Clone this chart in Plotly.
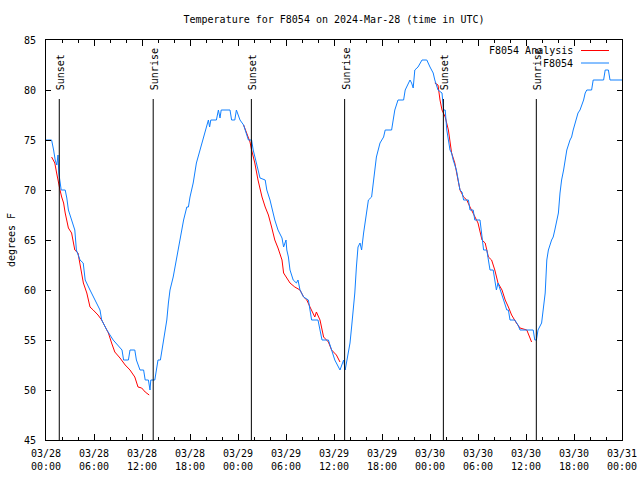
import pandas as pd
import plotly.graph_objects as go

BASE = pd.Timestamp("2024-03-28 00:00")

# Observed F8054 temperatures (hours since 03/28 00:00 UTC, degrees F)
obs_hours = [0.0, 0.7, 0.95, 1.15, 1.35, 1.5, 1.6, 1.75, 1.9, 2.4, 2.6, 2.8, 3.2, 3.6, 3.8, 4.25, 4.65, 4.9,
             5.5, 6.1, 6.75, 6.96, 7.6, 8.4, 9.5, 9.7, 10.3, 10.5, 11.1, 11.3, 11.75, 12.2, 12.4, 12.8, 13.0,
             13.1, 13.6, 13.8, 14.0, 14.3, 14.5, 14.7, 14.9, 15.1, 15.3, 15.5, 15.9, 16.3, 16.75, 17.2, 17.6,
             17.8, 18.0, 18.4, 18.8, 19.25, 19.7, 20.1, 20.3, 20.45, 20.6, 21.3, 21.55, 21.75, 21.9, 23.0,
             23.2, 23.6, 23.8, 24.25, 24.7, 24.9, 25.3, 25.7, 25.9, 26.3, 26.75, 27.4, 27.6, 28.0, 28.2, 28.6,
             29.0, 29.5, 29.7, 30.0, 30.1, 30.3, 30.5, 30.9, 31.3, 31.5, 31.75, 32.2, 32.8, 33.2, 34.0, 34.25,
             34.5, 35.3, 35.7, 36.1, 36.75, 37.2, 37.4, 37.8, 38.0, 38.2, 38.4, 38.6, 38.8, 39.0, 39.25, 39.45,
             39.7, 39.9, 40.1, 40.3, 40.7, 40.9, 41.1, 41.3, 41.75, 42.2, 42.4, 43.2, 43.4, 43.6, 44.0, 44.7,
             44.9, 45.3, 45.5, 45.7, 45.9, 46.1, 46.5, 47.0, 47.6, 48.0, 48.2, 48.4, 48.6, 49.0, 49.5, 49.7,
             49.9, 50.1, 50.3, 50.5, 50.7, 50.9, 51.3, 51.5, 51.75, 52.0, 52.2, 52.8, 53.0, 53.4, 53.6, 54.25,
             54.5, 54.7, 55.1, 55.3, 55.5, 55.9, 56.1, 56.3, 56.5, 56.75, 57.2, 57.6, 57.8, 58.0, 58.6, 59.0,
             59.25, 60.9, 61.1, 61.3, 61.5, 61.95, 62.2, 62.4, 62.6, 62.8, 63.2, 63.4, 63.6, 63.8, 64.05, 64.25,
             64.45, 64.7, 64.9, 65.1, 65.5, 65.7, 65.9, 66.3, 66.5, 66.75, 67.2, 67.4, 67.6, 68.2, 68.4, 69.7,
             69.9, 70.3, 70.5, 72.0]
obs_temps = [75, 75, 74, 73, 72.5, 73.5, 71.7, 70.7, 70, 70, 69.2, 68, 67, 66, 64, 63, 62.7, 61,
             60, 59, 58, 57, 56, 55, 54, 53, 53, 54, 54, 53, 52, 52, 51, 51, 50,
             51, 51, 52, 53, 53, 54, 54.7, 55.7, 57, 58.7, 60, 61.3, 63, 65.3, 67, 68.3,
             68.3, 69.3, 70.7, 72.7, 74, 75.2, 76.3, 77, 76.3, 77, 77, 78, 77.2, 78, 78,
             77, 77, 78, 77, 76.5, 76, 75, 75, 74, 72.7, 71.2, 71, 70, 69, 68.3, 67,
             66, 65.2, 64.3, 65, 64, 63.3, 62, 61, 60.7, 61, 60, 59.3, 59, 57, 57, 56,
             55, 55, 54, 53, 52, 53, 52, 53.7, 54.7, 56.3, 58, 59.7, 62.3, 64.3, 64.7, 64,
             65.7, 66.7, 68, 69, 69.3, 70.7, 72.3, 73.3, 74.7, 75.3, 76, 76, 77, 78, 79, 79,
             80, 80.7, 81, 80.7, 80.2, 82, 82.3, 83, 83, 82.3, 82, 81.7, 81, 80, 79.7, 78,
             78, 76, 75, 74, 73.7, 73, 72, 71, 70, 69.8, 69, 69, 68, 68, 67, 67,
             65.3, 64, 64, 63, 62, 62, 61, 60, 60.7, 60, 59, 58, 58, 57, 57, 56.5,
             56, 56, 55, 55, 56, 56.7, 58.3, 59.7, 63, 64, 65, 65.3, 66, 66.7, 67.7, 69.7,
             71, 72, 73.3, 74, 75, 75.3, 76, 77, 77.7, 78, 79, 79.7, 80, 80, 81, 81,
             82, 82, 81, 81]

# Overnight analysis segments (None separates the three nights)
ana_hours = [0.7, 1.1, 1.33, 1.54, 1.75, 1.96, 2.2, 2.4, 2.58, 2.8, 3.2, 3.4, 3.6, 4.0, 4.25, 4.46, 4.67,
             5.1, 5.5, 5.9, 6.5, 6.96, 7.4, 7.8, 8.2, 8.6, 9.25, 9.9, 10.5, 11.1, 11.5, 11.96, 12.4, 12.9,
             None,
             24.7, 25.1, 25.5, 25.7, 26.1, 26.5, 27.0, 27.4, 27.8, 28.2, 28.6, 29.0, 29.5, 29.7, 30.1, 30.5,
             31.1, 31.75, 32.2, 32.6, 33.0, 33.4, 33.6, 33.8, 34.25, 34.7, 35.3, 35.7, 36.3, 36.75,
             None,
             48.6, 49.0, 49.25, 49.5, 49.9, 50.3, 50.7, 51.1, 51.5, 51.75, 52.2, 52.6, 53.0, 53.6, 54.0,
             54.5, 54.9, 55.3, 55.7, 56.1, 56.5, 57.0, 57.4, 57.8, 58.2, 58.8, 59.25, 60.1, 60.5, 60.7]
ana_temps = [73.3, 72.7, 71.7, 70.7, 70, 69.3, 68.7, 67.7, 67, 66.2, 65.7, 64.7, 64, 63.7, 62.7, 61.7, 60.7,
             59.7, 58.3, 58, 57.5, 57, 56.3, 55.7, 54.7, 53.8, 53.2, 52.5, 52, 51.3, 50.3, 50.2, 49.8, 49.5,
             None,
             76.5, 75.7, 74.8, 74, 72.7, 71, 69.3, 68.3, 67.5, 66.3, 65, 64.2, 63, 61.7, 61.2, 60.7,
             60.3, 60, 59.3, 59, 58.3, 57.7, 57.3, 57.8, 57, 55.3, 54.8, 54, 53.5, 52.8,
             None,
             80.7, 80.5, 79, 78, 77.3, 76, 73.7, 72.7, 71, 70, 69.3, 69, 68.3, 67.3, 66.7,
             65, 64.7, 63.3, 63, 62, 60.7, 60, 59, 58.3, 57.5, 56.7, 56.2, 56, 55.3, 54.8]

# Sun events (hours since 03/28 00:00 UTC)
sun_hours = [1.66, 13.40, 25.67, 37.33, 49.67, 61.29]
sun_labels = ["Sunset", "Sunrise", "Sunset", "Sunrise", "Sunset", "Sunrise"]

legend_labels = ["F8054 Analysis", "F8054"]
RED = "#ff0000"
BLUE = "#1080ff"
FONT = "DejaVu Sans Mono"


def to_time(hours):
    return [None if h is None else BASE + pd.Timedelta(hours=h) for h in hours]


fig = go.Figure()
fig.add_trace(go.Scatter(x=to_time(ana_hours), y=ana_temps, mode="lines",
                         line=dict(color=RED, width=1), name=legend_labels[0],
                         connectgaps=False, showlegend=False))
fig.add_trace(go.Scatter(x=to_time(obs_hours), y=obs_temps, mode="lines",
                         line=dict(color=BLUE, width=1), name=legend_labels[1],
                         showlegend=False))

for h, lab in zip(sun_hours, sun_labels):
    t = BASE + pd.Timedelta(hours=h)
    fig.add_shape(type="line", x0=t, x1=t, y0=45, y1=79.1, xref="x", yref="y",
                  line=dict(color="black", width=1))
    fig.add_annotation(x=t, y=79.8, xref="x", yref="y", text=lab, textangle=-90,
                       showarrow=False, xanchor="center", yanchor="bottom", xshift=1,
                       font=dict(family=FONT, size=10, color="black"))

# Manual gnuplot-style legend (text right, sample line left of plot edge)
for i, (lab, col) in enumerate(zip(legend_labels, [RED, BLUE])):
    ypx = 50.5 + i * 12.5
    yp = 1 - (ypx - 40) / 400
    fig.add_annotation(x=(575 - 46) / 576, y=yp, xref="paper", yref="paper", text=lab,
                       showarrow=False, xanchor="right", yanchor="middle",
                       font=dict(family=FONT, size=10, color="black"))
    fig.add_shape(type="line", xref="paper", yref="paper",
                  x0=(581 - 46) / 576, x1=(609 - 46) / 576, y0=yp, y1=yp,
                  line=dict(color=col, width=1))

fig.update_layout(
    width=640, height=480,
    margin=dict(l=46, r=18, t=40, b=40, autoexpand=False),
    paper_bgcolor="white", plot_bgcolor="white",
    font=dict(family=FONT, size=10, color="black"),
    title=dict(text="Temperature for F8054 on 2024-Mar-28 (time in UTC)",
               x=334 / 640, xanchor="center", y=1 - 19 / 480, yanchor="middle",
               font=dict(family=FONT, size=10, color="black")),
    showlegend=False,
)
fig.update_xaxes(
    type="date", automargin=False,
    range=[BASE, BASE + pd.Timedelta(hours=72)],
    dtick=6 * 3600 * 1000, tick0=BASE,
    tickformat="%m/%d<br>%H:%M",
    ticks="inside", ticklen=6, tickwidth=1, tickcolor="black",
    minor=dict(ticks="inside", ticklen=3, dtick=2 * 3600 * 1000, tickcolor="black", showgrid=False),
    showline=True, linecolor="black", linewidth=1, mirror="allticks",
    showgrid=False, zeroline=False,
    ticklabelstandoff=4,
    tickfont=dict(family=FONT, size=10, color="black"),
)
fig.update_yaxes(
    range=[45, 85], dtick=5, automargin=False,
    ticks="inside", ticklen=5, tickwidth=1, tickcolor="black",
    showline=True, linecolor="black", linewidth=1, mirror="allticks",
    showgrid=False, zeroline=False,
    ticklabelstandoff=7,
    title=dict(text="degrees F", standoff=6, font=dict(family=FONT, size=10, color="black")),
    tickfont=dict(family=FONT, size=10, color="black"),
)

fig.write_html("out.html",
               config={"displayModeBar": False},
               post_script="document.body.style.margin='0';document.body.style.overflow='hidden';")
